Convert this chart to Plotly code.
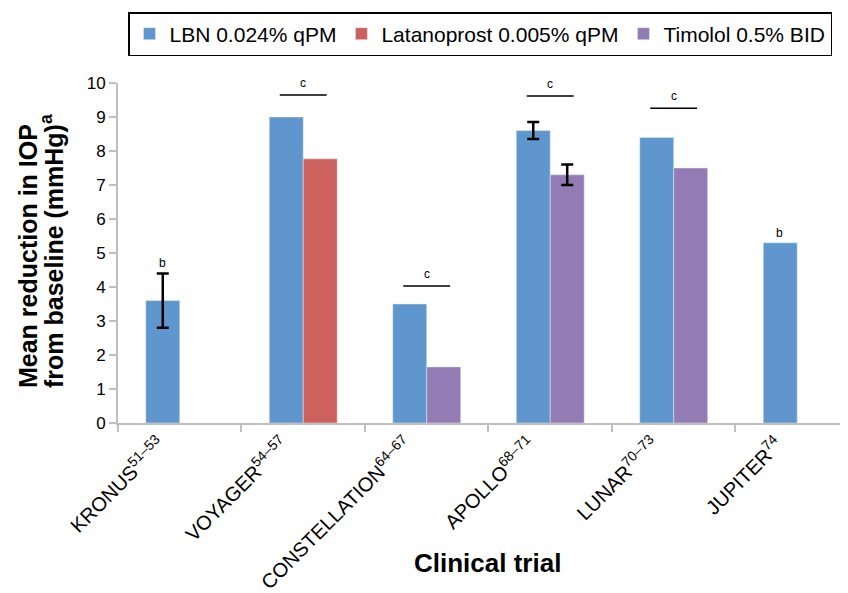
import plotly.graph_objects as go

# ---- data ----
trials = ["KRONUS<sup>51–53</sup>", "VOYAGER<sup>54–57</sup>", "CONSTELLATION<sup>64–67</sup>",
          "APOLLO<sup>68–71</sup>", "LUNAR<sup>70–73</sup>", "JUPITER<sup>74</sup>"]
lbn = [3.6, 9.0, 3.5, 8.6, 8.4, 5.3]
lbn_err = [0.8, None, None, 0.25, None, None]
latanoprost = [None, 7.77, None, None, None, None]
timolol = [None, None, 1.65, 7.3, 7.5, None]
timolol_err = [None, None, None, 0.3, None, None]

# significance markers: category index, bracket height
sig_c_idx = [1, 2, 3, 4]
sig_c_y = [9.65, 4.03, 9.62, 9.26]
sig_b_idx = [0, 5]
sig_b_y = [4.72, 5.59]

BLUE = "#5F96CD"
RED = "#CC615E"
PURPLE = "#937BB5"
FONT = "Arial, Liberation Sans, sans-serif"


def err_array(vals):
    # missing error values -> "NaN" so plotly draws no error bar at all there
    return ["NaN" if v is None else v for v in vals]


fig = go.Figure()
fig.add_trace(go.Bar(x=trials, y=lbn, name="LBN 0.024% qPM", marker_color=BLUE,
                     offsetgroup="a",
                     error_y=dict(type="data", array=err_array(lbn_err), color="black",
                                  thickness=2.5, width=6)))
fig.add_trace(go.Bar(x=trials, y=latanoprost, name="Latanoprost 0.005% qPM", marker_color=RED,
                     offsetgroup="b"))
fig.add_trace(go.Bar(x=trials, y=timolol, name="Timolol 0.5% BID", marker_color=PURPLE,
                     offsetgroup="b",
                     error_y=dict(type="data", array=err_array(timolol_err), color="black",
                                  thickness=2.5, width=6)))

shapes = []
annotations = []
for i, yv in zip(sig_c_idx, sig_c_y):
    shapes.append(dict(type="line", xref="x", yref="y", x0=i - 0.19, x1=i + 0.19, y0=yv, y1=yv,
                       line=dict(color="black", width=1.5)))
    annotations.append(dict(x=i, y=yv, xref="x", yref="y", text="c", showarrow=False,
                            yshift=12, font=dict(size=12, color="black", family=FONT)))
for i, yv in zip(sig_b_idx, sig_b_y):
    annotations.append(dict(x=i - 0.14, y=yv, xref="x", yref="y", text="b", showarrow=False,
                            font=dict(size=12, color="black", family=FONT)))

# axis titles
annotations.append(dict(x=0.5, y=-0.412, xref="paper", yref="paper", text="<b>Clinical trial</b>",
                        xanchor="center", yanchor="middle",
                        showarrow=False, font=dict(size=26, color="black", family=FONT)))
annotations.append(dict(x=-0.122, y=0.491, xref="paper", yref="paper", text="<b>Mean reduction in IOP</b>",
                        xanchor="center", yanchor="middle",
                        showarrow=False, textangle=-90, font=dict(size=25, color="black", family=FONT)))
annotations.append(dict(x=-0.0894, y=0.506, xref="paper", yref="paper",
                        text="<b>from baseline (mmHg)<sup>a</sup></b>",
                        xanchor="center", yanchor="middle",
                        showarrow=False, textangle=-90, font=dict(size=25, color="black", family=FONT)))

fig.update_layout(
    width=848, height=593,
    margin=dict(l=110, r=0, t=75, b=178),
    paper_bgcolor="white", plot_bgcolor="white",
    barmode="group", bargap=0.45, bargroupgap=0,
    font=dict(family=FONT, color="black"),
    shapes=shapes, annotations=annotations,
    legend=dict(orientation="h", xref="container", yref="container",
                x=120 / 848, y=1 - 4 / 593, xanchor="left", yanchor="top",
                bordercolor="black", borderwidth=1.5, font=dict(size=21, color="black"),
                itemclick=False),
    xaxis=dict(range=[-0.5, 5.476], showline=True, linecolor="#BFBFBF", linewidth=2,
               ticks="outside", tickson="boundaries", ticklen=7, tickcolor="#BFBFBF", tickwidth=2,
               tickangle=-45, tickfont=dict(size=20, color="black"), showgrid=False,
               ticklabelshift=-20),
    yaxis=dict(range=[0, 10], dtick=1, showline=True, linecolor="#BFBFBF", linewidth=2,
               ticks="outside", ticklen=7, tickcolor="#BFBFBF", tickwidth=2,
               tickfont=dict(size=17, color="black"), showgrid=False, zeroline=False),
)

fig.write_html("out.html")
